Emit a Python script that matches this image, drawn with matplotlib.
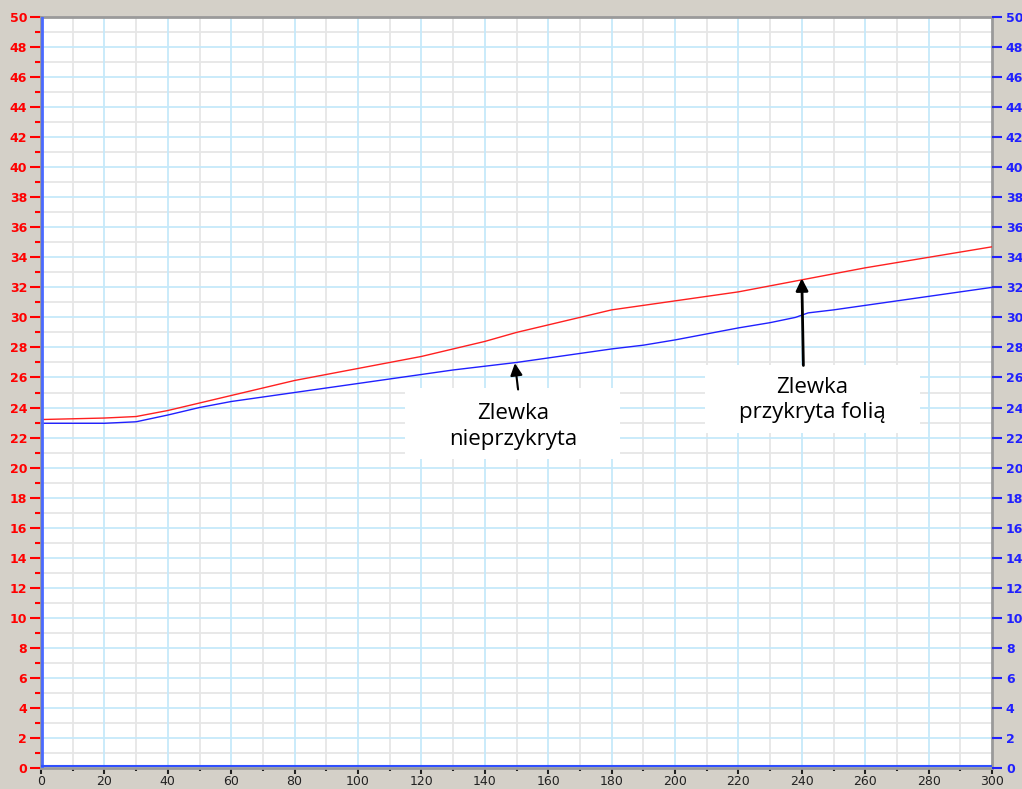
import matplotlib
matplotlib.use('Agg')
import matplotlib.pyplot as plt
from matplotlib.patches import Rectangle

# odczyt z wykresu: czas [s] i temperatura [C]
t_red = [0, 10, 20, 30, 40, 50, 60, 70, 80, 90, 100, 110, 120, 130, 140, 150,
         160, 170, 180, 190, 200, 210, 220, 230, 240, 250, 260, 270, 280, 290, 300]
temp_red = [23.2, 23.25, 23.3, 23.4, 23.8, 24.3, 24.8, 25.3, 25.8, 26.2, 26.6, 27.0,
            27.4, 27.9, 28.4, 29.0, 29.5, 30.0, 30.5, 30.8, 31.1, 31.4, 31.7, 32.1,
            32.5, 32.9, 33.3, 33.65, 34.0, 34.35, 34.7]
t_blue = [0, 10, 20, 30, 40, 50, 60, 70, 80, 90, 100, 110, 120, 130, 140, 150,
          160, 170, 180, 190, 200, 210, 220, 230, 238, 242, 250, 260, 270, 280, 290, 300]
temp_blue = [22.95, 22.95, 22.95, 23.05, 23.5, 24.0, 24.4, 24.7, 25.0, 25.3, 25.6, 25.9,
             26.2, 26.5, 26.75, 27.0, 27.3, 27.6, 27.9, 28.15, 28.5, 28.9, 29.3, 29.65,
             30.0, 30.3, 30.5, 30.8, 31.1, 31.4, 31.7, 32.0]

BG = '#d4d0c8'
fig = plt.figure(figsize=(10.22, 7.89), dpi=100, facecolor=BG)
ax = fig.add_axes([41/1022, 1 - 768/789, 951/1022, 751/789])
ax.set_facecolor('white')

ax.set_xlim(0, 300)
ax.set_ylim(0, 50)

# siatka: gesta szara + co druga niebieska
for x in range(10, 300, 20):
    ax.axvline(x, color='#e6e6e6', lw=1.3, zorder=0)
for y in range(1, 50, 2):
    ax.axhline(y, color='#e6e6e6', lw=1.3, zorder=0)
for x in range(20, 300, 20):
    ax.axvline(x, color='#c6e9fa', lw=1.3, zorder=0)
for y in range(2, 50, 2):
    ax.axhline(y, color='#c6e9fa', lw=1.3, zorder=0)

ax.plot(t_red, temp_red, color='#ff2020', lw=1.0, zorder=3)
ax.plot(t_blue, temp_blue, color='#2020ff', lw=1.0, zorder=3)
ax.axvline(0.3, color='#4a6aff', lw=2, zorder=4)
ax.axhline(0.1, color='#3050ff', lw=1.5, zorder=4)

for s in ax.spines.values():
    s.set_color('#9a9a9a')
    s.set_linewidth(2)

ax.set_xticks(range(0, 301, 20))
ax.set_xticks(range(10, 300, 20), minor=True)
ax.set_yticks(range(0, 51, 2))
ax.set_yticks(range(1, 50, 2), minor=True)
ax.tick_params(axis='y', which='major', colors='red', length=8, width=1.5,
               labelsize=9, pad=2)
ax.tick_params(axis='y', which='minor', colors='red', length=4, width=1.5)
ax.tick_params(axis='x', which='major', colors='#222222', length=4, width=1.5,
               labelsize=9, pad=1)
ax.tick_params(axis='x', which='minor', colors='#222222', length=2, width=1.5)
for lab in ax.get_yticklabels():
    lab.set_fontweight('bold')

ax2 = ax.twinx()
ax2.set_ylim(0, 50)
ax2.set_yticks(range(0, 51, 2))
ax2.tick_params(axis='y', colors='#2020ff', length=7, width=1.5, labelsize=9, pad=3)
for lab in ax2.get_yticklabels():
    lab.set_fontweight('bold')
for s in ax2.spines.values():
    s.set_visible(False)

# biale pola opisow
ax.add_patch(Rectangle((114.8, 20.6), 67.8, 4.7, fc='white', ec='none', zorder=5))
ax.add_patch(Rectangle((209.5, 22.3), 67.8, 4.5, fc='white', ec='none', zorder=5))
ax.text(149.0, 22.75, 'Zlewka\nnieprzykryta', ha='center', va='center', fontsize=16,
        family='Open Sans', linespacing=1.3, zorder=6)
ax.text(243.2, 24.5, 'Zlewka\nprzykryta folią', ha='center', va='center', fontsize=16,
        family='Open Sans', linespacing=1.3, zorder=6)
ax.annotate('', xy=(149.5, 26.95), xytext=(150.5, 25.2), zorder=6,
            arrowprops=dict(arrowstyle='-|>', color='black', lw=1.5,
                            mutation_scale=18, shrinkA=0, shrinkB=0))
ax.annotate('', xy=(240, 32.6), xytext=(240.5, 26.8), zorder=6,
            arrowprops=dict(arrowstyle='-|>', color='black', lw=2,
                            mutation_scale=18, shrinkA=0, shrinkB=0))

fig.savefig('out.png', dpi=100, facecolor=BG)
